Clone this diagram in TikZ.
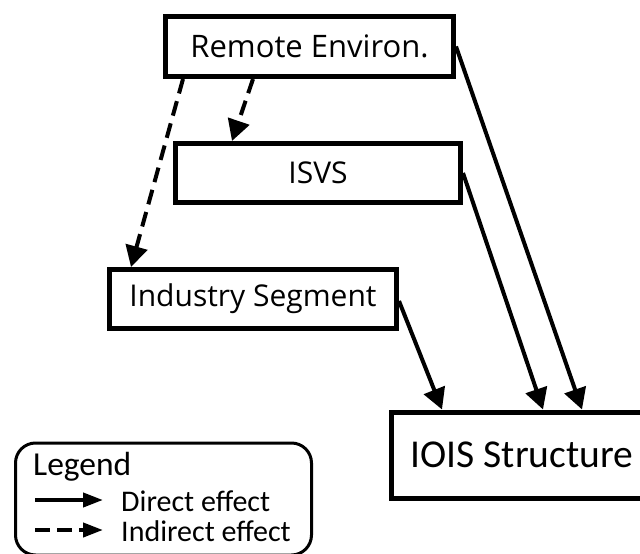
\documentclass[tikz,border=0pt]{standalone}
\usepackage{fontspec}
\setmainfont{Carlito}
\newfontfamily\boxfont{Open Sans}
\usetikzlibrary{arrows.meta,calc}
\begin{document}
\begin{tikzpicture}[x=1pt,y=-1pt,
  blk/.style={draw,line width=5pt,inner sep=0pt,anchor=center},
  direct/.style={line width=4pt,-{Triangle[length=21pt,width=22pt]}},
  indirect/.style={direct,dash pattern=on 15pt off 8pt},
  ldirect/.style={line width=4pt,-{Triangle[length=20pt,width=14pt]}},
  lindirect/.style={ldirect,dash pattern=on 15pt off 7pt},
  legtext/.style={anchor=base west,inner sep=0pt,font=\fontsize{30}{34}\selectfont,text depth=0pt}]
\useasboundingbox (0,0) rectangle (640,554);
% boxes
\node[blk,minimum width=288pt,minimum height=60pt,font=\boxfont\fontsize{31}{36}\selectfont] (re) at (309.5,46.5) {Remote Environ.};
\node[blk,minimum width=285pt,minimum height=59pt,font=\boxfont\fontsize{30}{35}\selectfont] (isvs) at (318,173) {ISVS};
\node[blk,minimum width=287pt,minimum height=59pt,font=\boxfont\fontsize{30}{35}\selectfont] (ind) at (253,299) {Industry Segment};
\node[blk,minimum width=261pt,minimum height=86pt,font=\fontsize{39.5}{46}\selectfont] (iois) at (522,455) {IOIS Structure};
% connectors
\draw[indirect] ([xshift=20pt]re.south west) -- ([xshift=24pt]ind.north west);
\draw[indirect] ([xshift=90pt]re.south west) -- ([xshift=59pt]isvs.north west);
\draw[direct] (re.east) -- ([xshift=193pt]iois.north west);
\draw[direct] (isvs.east) -- ([xshift=154pt]iois.north west);
\draw[direct] ([yshift=-2pt]ind.east) -- ([xshift=53pt]iois.north west);
% legend
\node[draw,line width=3pt,rounded corners=20pt,minimum width=296pt,minimum height=112pt,inner sep=0pt] (leg) at (163.5,499) {};
\node[legtext,font=\fontsize{33.5}{38}\selectfont] (legt) at (33,475) {Legend};
\node[legtext] (dt) at (121,511) {Direct effect};
\node[legtext] (it) at (121,541) {Indirect effect};
\coordinate (d0) at (35,500);
\coordinate (d1) at (103,500);
\coordinate (i0) at (35,530);
\coordinate (i1) at (103,530);
\draw[ldirect] (d0) -- (d1);
\draw[lindirect] (i0) -- (i1);
\end{tikzpicture}
\end{document}
